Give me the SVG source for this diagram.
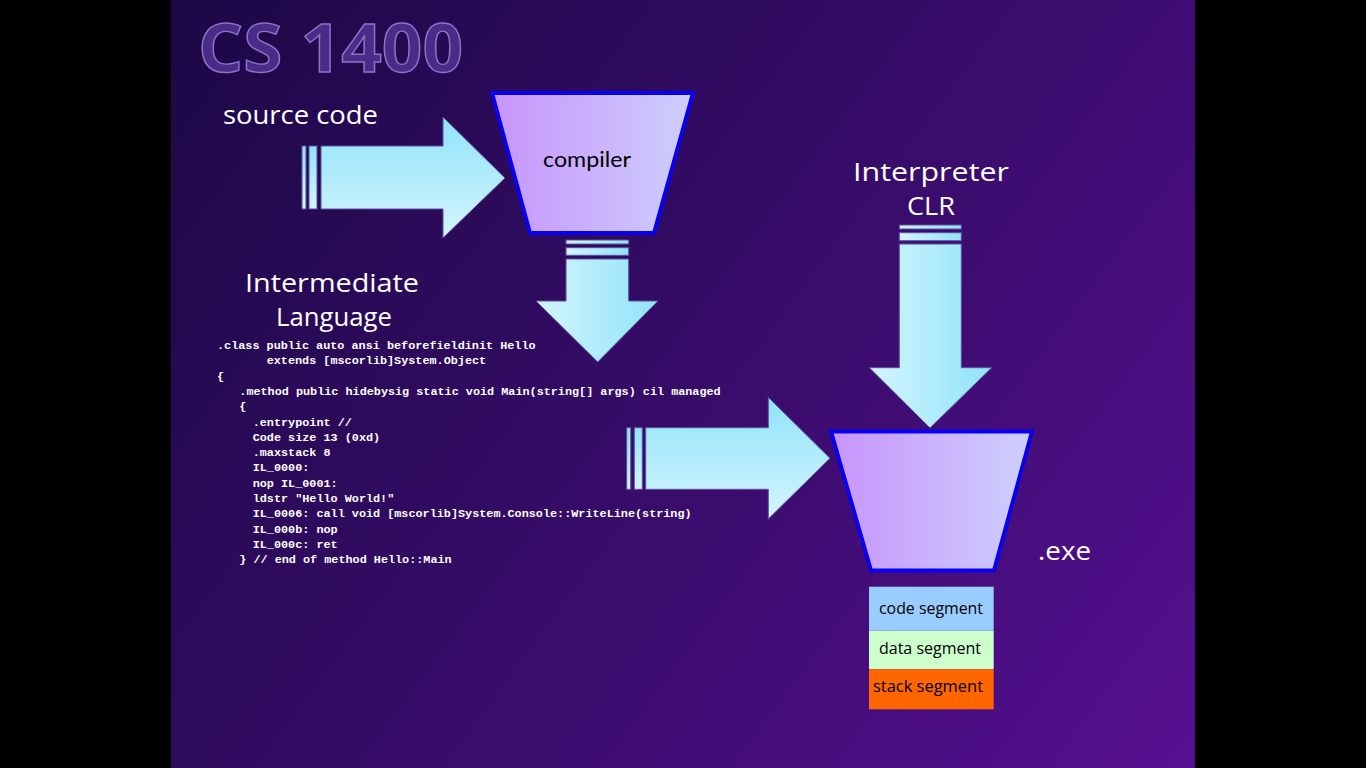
<svg xmlns="http://www.w3.org/2000/svg" width="1366" height="768" viewBox="0 0 1366 768">
  <defs>
    <linearGradient id="bg" gradientUnits="userSpaceOnUse" x1="171" y1="0" x2="1195" y2="768">
      <stop offset="0" stop-color="#1c0846"/>
      <stop offset="0.5" stop-color="#360c68"/>
      <stop offset="1" stop-color="#560f90"/>
    </linearGradient>
    <!-- cyan fill for horizontal arrows (top to bottom) -->
    <linearGradient id="arrowH" x1="0" y1="0" x2="0" y2="1">
      <stop offset="0" stop-color="#90e3fa"/>
      <stop offset="1" stop-color="#d4f5fd"/>
    </linearGradient>
    <!-- cyan fill for vertical arrows (left to right) -->
    <linearGradient id="arrowV" x1="0" y1="0" x2="1" y2="0">
      <stop offset="0" stop-color="#d4f5fd"/>
      <stop offset="1" stop-color="#90e3fa"/>
    </linearGradient>
    <linearGradient id="funnel" x1="0" y1="0" x2="1" y2="0">
      <stop offset="0" stop-color="#c794fb"/>
      <stop offset="1" stop-color="#cdd0fd"/>
    </linearGradient>
    <style>
      .arrow { stroke: #5e4fa0; stroke-width: 1; }
      .funnel { fill: url(#funnel); stroke: #0a00f0; stroke-width: 4; stroke-linejoin: miter; }
      .label { font-family: "Comic Sans MS", "Open Sans", "Lato", sans-serif; fill: #ffffff; text-anchor: middle; }
      .code { font-family: "Liberation Mono", "DejaVu Sans Mono", monospace; font-weight: bold; font-size: 11.8px; fill: #ffffff; }
      .seg { font-family: "Comic Sans MS", "Open Sans", "Lato", sans-serif; font-size: 16px; fill: #000000; text-anchor: middle; }
    </style>
  </defs>

  <!-- letterbox and slide background -->
  <rect x="0" y="0" width="1366" height="768" fill="#000000"/>
  <rect x="171" y="0" width="1024" height="768" fill="url(#bg)"/>

  <g id="title">
    <text x="198" y="72" font-family="Comic Sans MS, Open Sans, Lato, sans-serif" font-size="66" font-weight="bold" fill="#4a2b88" stroke="#8e72c8" stroke-width="1.4" textLength="265" lengthAdjust="spacingAndGlyphs">CS 1400</text>
  </g>

  <g id="connectors">
    <!-- source code into compiler -->
    <g id="arrow-source">
      <rect class="arrow" x="302" y="146" width="4" height="63" fill="url(#arrowH)"/>
      <rect class="arrow" x="309" y="146" width="8" height="63" fill="url(#arrowH)"/>
      <polygon class="arrow" fill="url(#arrowH)" points="321,146 443,146 443,117 505,178 443,238 443,209 321,209"/>
    </g>
    <!-- compiler down to intermediate language -->
    <g id="arrow-compiled">
      <rect class="arrow" x="566" y="240" width="62.7" height="4" fill="url(#arrowV)"/>
      <rect class="arrow" x="566" y="247.7" width="62.7" height="7.6" fill="url(#arrowV)"/>
      <polygon class="arrow" fill="url(#arrowV)" points="566,259 628.7,259 628.7,301 658,301 597.7,362 536,301 566,301"/>
    </g>
    <!-- interpreter down into exe -->
    <g id="arrow-clr">
      <rect class="arrow" x="899.3" y="225" width="62" height="4" fill="url(#arrowV)"/>
      <rect class="arrow" x="899.3" y="232.7" width="62" height="8" fill="url(#arrowV)"/>
      <polygon class="arrow" fill="url(#arrowV)" points="899.3,244 961.3,244 961.3,367.7 991.7,367.7 930,428 869.3,367.7 899.3,367.7"/>
    </g>
    <!-- intermediate language into exe -->
    <g id="arrow-il">
      <rect class="arrow" x="626.7" y="427.7" width="4" height="61.6" fill="url(#arrowH)"/>
      <rect class="arrow" x="634.3" y="427.7" width="8" height="61.6" fill="url(#arrowH)"/>
      <polygon class="arrow" fill="url(#arrowH)" points="645.7,427.7 768.3,427.7 768.3,397.3 830,458.3 768.3,519 768.3,489.3 645.7,489.3"/>
    </g>
  </g>

  <g id="source-code">
    <text class="label" x="300.5" y="124" font-size="26" textLength="155" lengthAdjust="spacingAndGlyphs">source code</text>
  </g>

  <g id="compiler">
    <polygon class="funnel" points="492,93 693,93 654,233 530,233"/>
    <text x="587" y="167" font-family="Lato, Open Sans, sans-serif" font-size="21" fill="#000000" text-anchor="middle" textLength="88" lengthAdjust="spacingAndGlyphs">compiler</text>
  </g>

  <g id="intermediate-language">
    <text class="label" x="332" y="292" font-size="26" textLength="174" lengthAdjust="spacingAndGlyphs">Intermediate</text>
    <text class="label" x="334" y="326" font-size="26" textLength="116" lengthAdjust="spacingAndGlyphs">Language</text>
    <g id="il-listing">
      <text class="code" x="217" y="349">.class public auto ansi beforefieldinit Hello</text>
      <text class="code" x="266.7" y="364.3">extends [mscorlib]System.Object</text>
      <text class="code" x="217" y="379.6">{</text>
      <text class="code" x="239.3" y="394.9">.method public hidebysig static void Main(string[] args) cil managed</text>
      <text class="code" x="239.3" y="410.2">{</text>
      <text class="code" x="252.7" y="425.5">.entrypoint //</text>
      <text class="code" x="252.7" y="440.8">Code size 13 (0xd)</text>
      <text class="code" x="252.7" y="456.1">.maxstack 8</text>
      <text class="code" x="252.7" y="471.4">IL_0000:</text>
      <text class="code" x="252.7" y="486.7">nop IL_0001:</text>
      <text class="code" x="252.7" y="502">ldstr "Hello World!"</text>
      <text class="code" x="252.7" y="517.3">IL_0006: call void [mscorlib]System.Console::WriteLine(string)</text>
      <text class="code" x="252.7" y="532.6">IL_000b: nop</text>
      <text class="code" x="252.7" y="547.9">IL_000c: ret</text>
      <text class="code" x="239.3" y="563.2">} // end of method Hello::Main</text>
    </g>
  </g>

  <g id="interpreter">
    <text class="label" x="931" y="181" font-size="26" textLength="156" lengthAdjust="spacingAndGlyphs">Interpreter</text>
    <text class="label" x="931" y="215" font-size="26" textLength="48" lengthAdjust="spacingAndGlyphs">CLR</text>
  </g>

  <g id="exe">
    <polygon class="funnel" points="831,431.5 1032,431.5 994,570.5 871,570.5"/>
    <text class="label" x="1064.5" y="560" font-size="25" textLength="53" lengthAdjust="spacingAndGlyphs">.exe</text>
  </g>

  <g id="segments">
    <rect x="869" y="586.7" width="124.7" height="44" fill="#99ccff"/>
    <rect x="869" y="630.7" width="124.7" height="38.6" fill="#ccffcc"/>
    <rect x="869" y="669.3" width="124.7" height="40" fill="#ff6600"/>
    <text class="seg" x="931" y="614" textLength="104" lengthAdjust="spacingAndGlyphs">code segment</text>
    <text class="seg" x="930" y="654" textLength="102" lengthAdjust="spacingAndGlyphs">data segment</text>
    <text class="seg" x="928" y="692" textLength="110" lengthAdjust="spacingAndGlyphs">stack segment</text>
  </g>
</svg>
